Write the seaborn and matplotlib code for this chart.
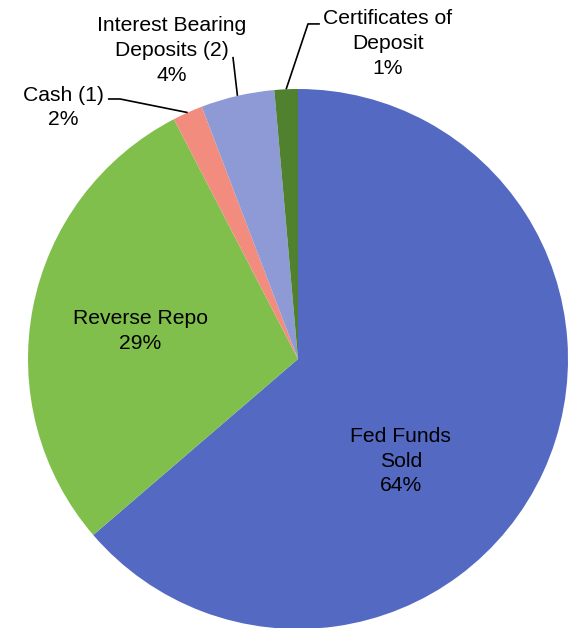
import numpy as np
import matplotlib
matplotlib.use("Agg")
import matplotlib.pyplot as plt
import seaborn as sns

# Portfolio composition (percent of total)
categories = ["Fed Funds\nSold", "Reverse Repo", "Cash (1)",
              "Interest Bearing\nDeposits (2)", "Certificates of\nDeposit"]
shares = [63.7, 28.7, 1.8, 4.4, 1.4]
colors = ["#5469C2", "#80BF4C", "#F18C7E", "#8E9AD5", "#4F812F"]

sns.set_theme(style="white")
plt.rcParams["font.family"] = ["Liberation Sans", "DejaVu Sans"]

W, H = 570, 628
fig = plt.figure(figsize=(W / 100, H / 100), dpi=100)
cx, cy, R = 298, 359, 270
ax = fig.add_axes([(cx - R) / W, (H - cy - R) / H, 2 * R / W, 2 * R / H])

wedges, _ = ax.pie(shares, colors=colors, startangle=90, counterclock=False,
                   radius=1.0, wedgeprops=dict(linewidth=0))
ax.set_xlim(-1, 1)
ax.set_ylim(-1, 1)
ax.set_aspect("equal")
ax.axis("off")

total = sum(shares)
pct = [f"{v / total * 100:.0f}%" for v in shares]

fs = 15.2
ls = 1.38
# Labels inside the two large wedges
ax.text(0.381, -0.378, f"{categories[0]}\n{pct[0]}", ha="center", va="center",
        fontsize=fs, color="black", linespacing=ls)
ax.text(-0.585, 0.104, f"{categories[1]}\n{pct[1]}", ha="center", va="center",
        fontsize=fs, color="black", linespacing=ls)

# Outside labels for the small wedges, with leader lines to the wedge rim
outside = {
    2: dict(text_xy=(-0.870, 0.932), path=[(-0.704, 0.963), (-0.659, 0.963)]),
    3: dict(text_xy=(-0.467, 1.143), path=[(-0.241, 1.119)]),
    4: dict(text_xy=(0.333, 1.168), path=[(0.081, 1.241), (0.037, 1.241)]),
}
for i, spec in outside.items():
    w = wedges[i]
    mid = np.deg2rad((w.theta1 + w.theta2) / 2)
    rim = (np.cos(mid) * 1.0, np.sin(mid) * 1.0)
    pts = spec["path"] + [rim]
    xs, ys = zip(*pts)
    ax.plot(xs, ys, color="black", lw=1.2, clip_on=False, solid_capstyle="butt")
    ax.text(*spec["text_xy"], f"{categories[i]}\n{pct[i]}", ha="center",
            va="center", fontsize=fs, color="black", linespacing=ls)

fig.savefig("out.png", dpi=100, facecolor="white")
